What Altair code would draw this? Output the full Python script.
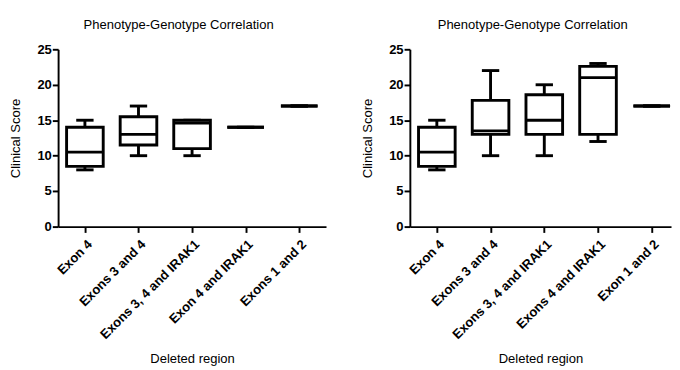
import altair as alt
import pandas as pd

# Left panel data
categories_left = ["Exon 4", "Exons 3 and 4", "Exons 3, 4 and IRAK1", "Exon 4 and IRAK1", "Exons 1 and 2"]
left_min = [8, 10, 10, 14, 17]
left_q1 = [8.5, 11.5, 11, 14, 17]
left_median = [10.5, 13, 14.6, 14, 17]
left_q3 = [14, 15.5, 15, 14, 17]
left_max = [15, 17, 15, 14, 17]

# Right panel data
categories_right = ["Exon 4", "Exons 3 and 4", "Exons 3, 4 and IRAK1", "Exons 4 and IRAK1", "Exon 1 and 2"]
right_min = [8, 10, 10, 12, 17]
right_q1 = [8.5, 13, 13, 13, 17]
right_median = [10.5, 13.5, 15, 21, 17]
right_q3 = [14, 17.8, 18.6, 22.6, 17]
right_max = [15, 22, 20, 23, 17]

y_ticks = [0, 5, 10, 15, 20, 25]
FONT = "Liberation Sans"


def panel(cats, lo, q1, med, q3, hi, width, pad, align, title_dx):
    df = pd.DataFrame({"region": cats, "lo": lo, "q1": q1, "med": med, "q3": q3, "hi": hi})
    xaxis = alt.Axis(
        labelAngle=315, labelAlign="right", labelBaseline="top",
        labelFontWeight="bold", labelFontSize=13.5, labelColor="black",
        labelPadding=5, tickSize=6, tickWidth=2, tickColor="black",
        domainWidth=2, domainColor="black", titleFontSize=13.5,
        titleFontWeight="normal", titleColor="black", titlePadding=11,
        grid=False,
    )
    yaxis = alt.Axis(
        values=y_ticks, labelFontWeight="bold", labelFontSize=13.5, labelColor="black",
        labelPadding=1, tickSize=6, tickWidth=2, tickColor="black",
        domainWidth=2, domainColor="black", titleFontSize=13.5,
        titleFontWeight="normal", titleColor="black", titlePadding=15,
        grid=False,
    )
    x = alt.X("region:N", sort=cats, title="Deleted region",
              scale=alt.Scale(type="point", padding=pad, align=align), axis=xaxis)
    yscale = alt.Scale(domain=[0, 25], nice=False)

    def Y(f):
        return alt.Y(f"{f}:Q", scale=yscale, axis=yaxis, title="Clinical Score")

    base = alt.Chart(df)
    lower = base.mark_rule(color="black", strokeWidth=3).encode(x=x, y=Y("lo"), y2="q1")
    upper = base.mark_rule(color="black", strokeWidth=3).encode(x=x, y=Y("q3"), y2="hi")
    cap_lo = base.mark_tick(color="black", opacity=1, size=18, thickness=3).encode(x=x, y=Y("lo"))
    cap_hi = base.mark_tick(color="black", opacity=1, size=18, thickness=3).encode(x=x, y=Y("hi"))
    box = base.mark_bar(size=38, fill="white", stroke="black", strokeWidth=3, opacity=1).encode(
        x=x, y=Y("q1"), y2="q3")
    median = base.mark_tick(color="black", opacity=1, size=38, thickness=3).encode(x=x, y=Y("med"))
    return alt.layer(lower, upper, cap_lo, cap_hi, box, median).properties(
        width=width, height=184,
        title=alt.Title("Phenotype-Genotype Correlation", fontSize=13.5,
                        fontWeight="normal", color="black", anchor="middle",
                        offset=12, dx=title_dx),
    )


left = panel(categories_left, left_min, left_q1, left_median, left_q3, left_max, 278, 0.5, 0.5, -14)
right = panel(categories_right, right_min, right_q1, right_median, right_q3, right_max, 271, 0.4305, 0.583, -8)

chart = alt.hconcat(left, right, spacing=35).configure(
    padding={"left": 0, "top": 3, "right": 0, "bottom": 0},
    font=FONT,
).configure_view(stroke=None)

chart.save("out.html", embed_options={"renderer": "svg", "actions": False})
